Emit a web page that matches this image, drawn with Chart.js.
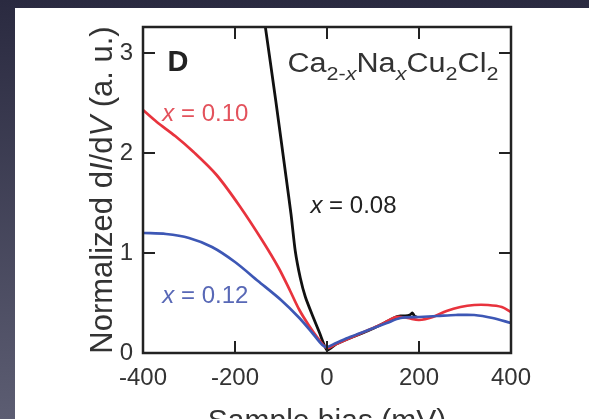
<!DOCTYPE html>
<html>
<head>
<meta charset="utf-8">
<script src="https://cdn.jsdelivr.net/npm/chart.js@4"></script>
<style>
html,body{margin:0;padding:0;background:#2b2b42;overflow:hidden}
canvas{display:block}
</style>
</head>
<body>
<canvas id="c" width="589" height="419"></canvas>
<script>
// tick values
var xTicks = [-400, -200, 0, 200, 400];
var yTicks = [0, 1, 2, 3];

// x = 0.08 (black)
var biasBlack = [-140, -134, -111, -89, -78, -69, -58, -47, -32, -16, 0, 20, 50, 88, 120, 145, 160, 170, 180, 186, 190, 195];
var didvBlack = [3.45, 3.26, 2.51, 1.76, 1.38, 1.02, 0.75, 0.56, 0.38, 0.20, 0.03, 0.09, 0.15, 0.22, 0.29, 0.35, 0.37, 0.37, 0.38, 0.40, 0.37, 0.36];

// x = 0.10 (red)
var biasRed = [-400, -370, -330, -290, -240, -190, -140, -105, -80, -60, -40, -20, 0, 20, 50, 90, 120, 150, 175, 200, 230, 260, 290, 320, 350, 380, 400];
var didvRed = [2.43, 2.31, 2.17, 2.01, 1.78, 1.47, 1.12, 0.85, 0.62, 0.43, 0.28, 0.15, 0.05, 0.09, 0.15, 0.23, 0.29, 0.36, 0.35, 0.33, 0.36, 0.42, 0.46, 0.48, 0.48, 0.46, 0.41];

// x = 0.12 (blue)
var biasBlue = [-400, -350, -300, -250, -200, -150, -100, -60, -30, -10, 0, 20, 50, 90, 130, 160, 200, 240, 280, 320, 360, 400];
var didvBlue = [1.20, 1.19, 1.15, 1.06, 0.91, 0.72, 0.53, 0.35, 0.19, 0.08, 0.06, 0.10, 0.16, 0.23, 0.30, 0.35, 0.36, 0.37, 0.38, 0.38, 0.35, 0.30];

function pts(xs, ys){
    return xs.map(function(x, i){ return {x: x, y: ys[i]}; });
}

var FONT = '"Liberation Sans", Arial, sans-serif';
var TXT = '#333';

// draws a row of text pieces with their own fonts
function rich(ctx, segs, x, y, align, sx){
    var w = 0;
    segs.forEach(function(s){ ctx.font = s.f; s.w = ctx.measureText(s.t).width; w += s.w; });
    ctx.save();
    ctx.translate(x, y);
    ctx.scale(sx || 1, 1);
    ctx.textBaseline = 'alphabetic';
    var cx = align === 'center' ? -w / 2 : 0;
    segs.forEach(function(s){
        ctx.font = s.f;
        ctx.fillStyle = s.c;
        ctx.fillText(s.t, cx, s.dy || 0);
        cx += s.w;
    });
    ctx.restore();
    return w;
}
function f(size, style){ return (style || '') + ' ' + size + 'px ' + FONT; }

var panel = {
    id: 'panel',
    beforeDraw: function(chart){
        var ctx = chart.ctx;
        var g = ctx.createLinearGradient(0, 0, 0, chart.height);
        g.addColorStop(0, '#2a2a40');
        g.addColorStop(1, '#5c5d72');
        ctx.save();
        ctx.fillStyle = g;
        ctx.fillRect(0, 0, chart.width, chart.height);
        ctx.fillStyle = '#ffffff';
        ctx.fillRect(15, 8, chart.width - 15, chart.height - 8);
        ctx.restore();
    },
    afterDatasetsDraw: function(chart){
        var ctx = chart.ctx, a = chart.chartArea;
        var xs = chart.scales.x, ys = chart.scales.y;
        var tl = 12;
        ctx.save();
        ctx.strokeStyle = '#222';
        ctx.lineWidth = 2;
        ctx.beginPath();
        xTicks.forEach(function(v){
            var px = xs.getPixelForValue(v);
            ctx.moveTo(px, a.bottom); ctx.lineTo(px, a.bottom - tl);
            ctx.moveTo(px, a.top); ctx.lineTo(px, a.top + tl);
        });
        yTicks.forEach(function(v){
            var py = ys.getPixelForValue(v);
            ctx.moveTo(a.left, py); ctx.lineTo(a.left + tl, py);
            ctx.moveTo(a.right, py); ctx.lineTo(a.right - tl, py);
        });
        ctx.stroke();
        ctx.lineWidth = 2.5;
        ctx.strokeRect(a.left, a.top, a.right - a.left, a.bottom - a.top);
        ctx.restore();
    },
    afterDraw: function(chart){
        var ctx = chart.ctx, a = chart.chartArea;
        var xs = chart.scales.x, ys = chart.scales.y;
        var X = function(v){ return xs.getPixelForValue(v); };
        var Y = function(v){ return ys.getPixelForValue(v); };

        // panel letter
        rich(ctx, [{t: 'D', f: f(29, 'bold'), c: '#222'}], X(-347), Y(2.82), 'left');

        // compound
        var segs = [
            {t: 'Ca', f: f(27), c: TXT},
            {t: '2-', f: f(19), c: TXT, dy: 8},
            {t: 'x', f: f(19, 'italic'), c: TXT, dy: 8},
            {t: 'Na', f: f(27), c: TXT},
            {t: 'x', f: f(19, 'italic'), c: TXT, dy: 8},
            {t: 'Cu', f: f(27), c: TXT},
            {t: '2', f: f(19), c: TXT, dy: 8},
            {t: 'Cl', f: f(27), c: TXT},
            {t: '2', f: f(19), c: TXT, dy: 8}
        ];
        var w = 0;
        segs.forEach(function(s){ ctx.font = s.f; w += ctx.measureText(s.t).width; });
        rich(ctx, segs, X(-86), Y(2.81), 'left', 211 / w);

        // series labels
        rich(ctx, [{t: 'x', f: f(24, 'italic'), c: '#e3525c'}, {t: ' = 0.10', f: f(24), c: '#e3525c'}], X(-358), Y(2.32), 'left');
        rich(ctx, [{t: 'x', f: f(24, 'italic'), c: '#222'}, {t: ' = 0.08', f: f(24), c: '#222'}], X(-36), Y(1.40), 'left');
        rich(ctx, [{t: 'x', f: f(24, 'italic'), c: '#5868b6'}, {t: ' = 0.12', f: f(24), c: '#5868b6'}], X(-358), Y(0.50), 'left');

        // axis titles
        rich(ctx, [{t: 'Sample bias (mV)', f: f(30), c: TXT}], (a.left + a.right) / 2, 430, 'center');
        ctx.save();
        ctx.translate(112, 190);
        ctx.rotate(-Math.PI / 2);
        rich(ctx, [
            {t: 'Normalized d', f: f(31), c: TXT},
            {t: 'I', f: f(31, 'italic'), c: TXT},
            {t: '/d', f: f(31), c: TXT},
            {t: 'V', f: f(31, 'italic'), c: TXT},
            {t: ' (a. u.)', f: f(31), c: TXT}
        ], 0, 0, 'center');
        ctx.restore();
    }
};

new Chart(document.getElementById('c'), {
    type: 'line',
    data: {
        datasets: [
            { label: 'x = 0.12', data: pts(biasBlue, didvBlue), borderColor: '#3d57b5', borderWidth: 2.7, pointRadius: 0, tension: 0.3 },
            { label: 'x = 0.10', data: pts(biasRed, didvRed), borderColor: '#e8333d', borderWidth: 2.7, pointRadius: 0, tension: 0.3 },
            { label: 'x = 0.08', data: pts(biasBlack, didvBlack), borderColor: '#111111', borderWidth: 2.8, pointRadius: 0, tension: 0.2 }
        ]
    },
    options: {
        responsive: false,
        animation: false,
        layout: { padding: { left: 0, top: 27, right: 78, bottom: 0 } },
        plugins: { legend: { display: false }, tooltip: { enabled: false } },
        scales: {
            x: {
                type: 'linear', min: -400, max: 400,
                grid: { display: false, drawTicks: false }, border: { display: false },
                ticks: { stepSize: 200, padding: 11, color: TXT, font: { family: FONT, size: 24 }, maxRotation: 0,
                    callback: function(v){ return String(v); } },
                afterFit: function(s){ s.height = 66; }
            },
            y: {
                min: 0, max: 3.26,
                grid: { display: false, drawTicks: false }, border: { display: false },
                ticks: { stepSize: 1, includeBounds: false, padding: 10, color: TXT, font: { family: FONT, size: 24 } },
                afterFit: function(s){ s.width = 143; }
            }
        }
    },
    plugins: [panel]
});
</script>
</body>
</html>
